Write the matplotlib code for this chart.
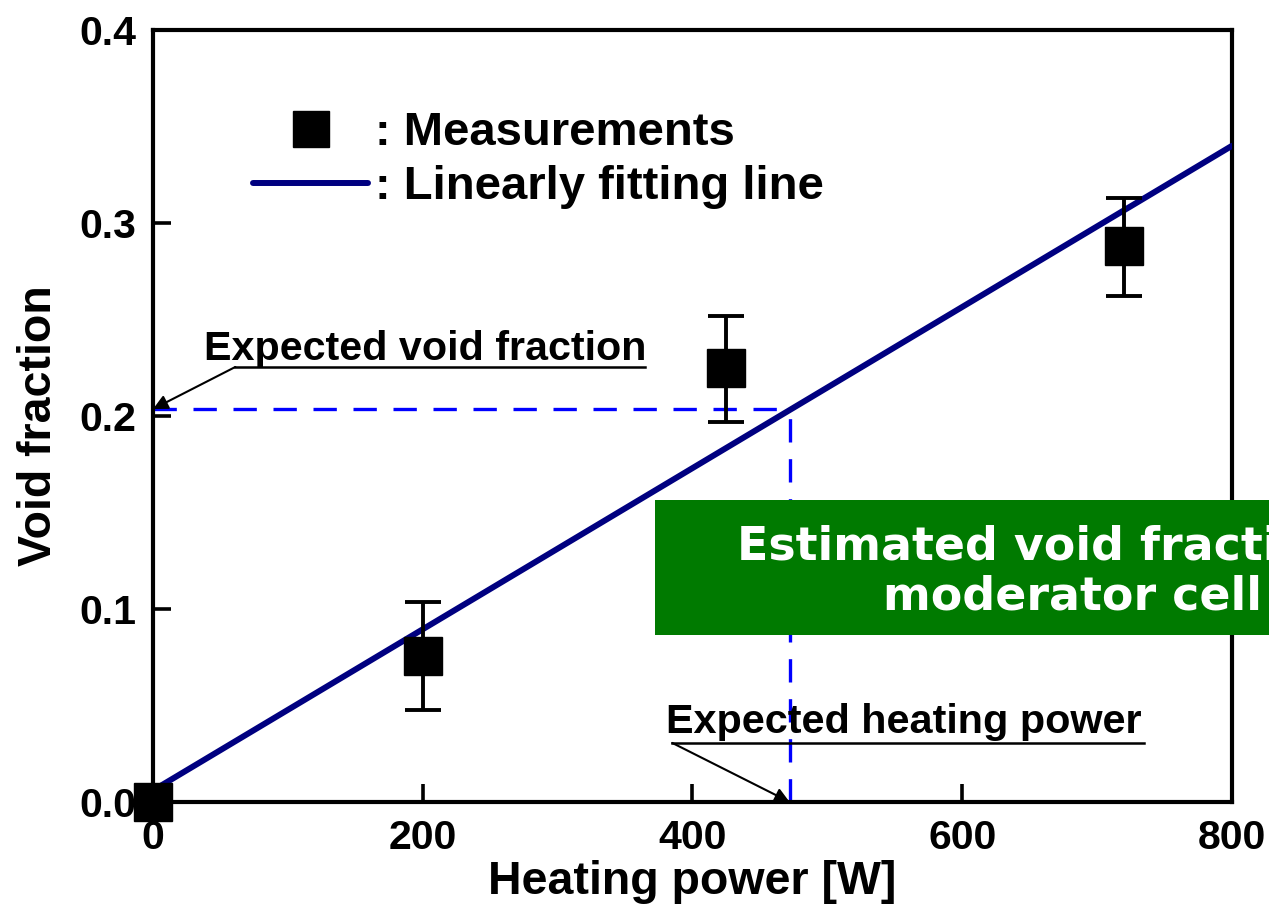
import matplotlib
matplotlib.use("Agg")
import matplotlib.pyplot as plt
from matplotlib.lines import Line2D
from matplotlib.patches import Rectangle

plt.rcParams['font.family'] = ['Liberation Sans', 'DejaVu Sans']
plt.rcParams['font.weight'] = 'bold'

# measurements
power = [0, 200, 425, 720]
void = [0.0, 0.0755, 0.225, 0.288]
err_lo = [0.0, 0.028, 0.028, 0.026]
err_hi = [0.0, 0.028, 0.027, 0.025]

# linear fit line end points
fit_x = [0, 800]
fit_y = [0.006, 0.340]

# expected operating point
exp_power = 472
exp_void = 0.2036

xticks = [0, 200, 400, 600, 800]
yticks = [0.0, 0.1, 0.2, 0.3, 0.4]

fig = plt.figure(figsize=(12.69, 9.07), dpi=100)
ax = fig.add_axes([0.1206, 0.1158, 0.8502, 0.8511])

ax.plot(fit_x, fit_y, color='#000080', lw=4.3, solid_capstyle='round', zorder=3)
ax.errorbar(power[1:], void[1:], yerr=[err_lo[1:], err_hi[1:]], fmt='none',
            ecolor='black', elinewidth=2.8, capsize=13, capthick=2.8, zorder=4)
ax.plot(power, void, 's', color='black', ms=27, ls='none', zorder=5, clip_on=False)

ax.plot([0, exp_power], [exp_void, exp_void], color='#0000FF', lw=2.4,
        dashes=(7, 5), zorder=2)
ax.plot([exp_power, exp_power], [0, exp_void], color='#0000FF', lw=2.4,
        dashes=(7, 5), zorder=2)

# annotations
ax.text(38, 0.229, 'Expected void fraction', fontsize=29.7, ha='left', va='baseline')
ax.plot([61, 365], [0.2254, 0.2254], color='black', lw=1.8)
ax.annotate('', xy=(0, exp_void), xytext=(61, 0.2254),
            arrowprops=dict(arrowstyle='-|>', color='black', lw=1.5,
                            mutation_scale=22, shrinkA=0, shrinkB=0))
ax.text(380, 0.0358, 'Expected heating power', fontsize=29.8, ha='left', va='baseline')
ax.plot([385, 735], [0.0306, 0.0306], color='black', lw=1.8)
ax.annotate('', xy=(exp_power, 0), xytext=(385, 0.0306),
            arrowprops=dict(arrowstyle='-|>', color='black', lw=1.5,
                            mutation_scale=22, shrinkA=0, shrinkB=0))

ax.set_xlim(0, 800)
ax.set_ylim(0, 0.4)
ax.set_xticks(xticks)
ax.set_yticks(yticks)
ax.set_yticklabels([f'{v:.1f}' for v in yticks])
ax.tick_params(direction='in', length=13, width=2.6, labelsize=29.5, pad=12)
for s in ax.spines.values():
    s.set_linewidth(3)

ax.set_xlabel('Heating power [W]', fontsize=33.5, fontweight='bold')
ax.set_ylabel('Void fraction', fontsize=33.5, fontweight='bold')
ax.xaxis.set_label_coords(0.5, -0.075)
ax.yaxis.set_label_coords(-0.085, 0.488)

handles = [Line2D([], [], marker='s', color='black', ms=26, ls='none'),
           Line2D([], [], color='#000080', lw=4.3, solid_capstyle='round')]
ax.legend(handles, [': Measurements', ': Linearly fitting line'], loc='upper left',
          bbox_to_anchor=(0.0927, 0.895), frameon=False, fontsize=34,
          handlelength=2.44, handletextpad=0.15, borderpad=0, borderaxespad=0,
          labelspacing=0.22)

# green callout box
fig.patches.append(Rectangle((0.516, 0.2999), 0.6, 0.1488, transform=fig.transFigure,
                             facecolor='#007A00', edgecolor='none', zorder=10))
fig.text(737 / 1269, 1 - 572 / 907, 'Estimated void fraction in\nmoderator cell',
         color='white', fontsize=33, family='DejaVu Sans', fontweight='bold',
         ha='left', va='center', multialignment='center', linespacing=1.15, zorder=11)

fig.savefig('out.png', dpi=100)
